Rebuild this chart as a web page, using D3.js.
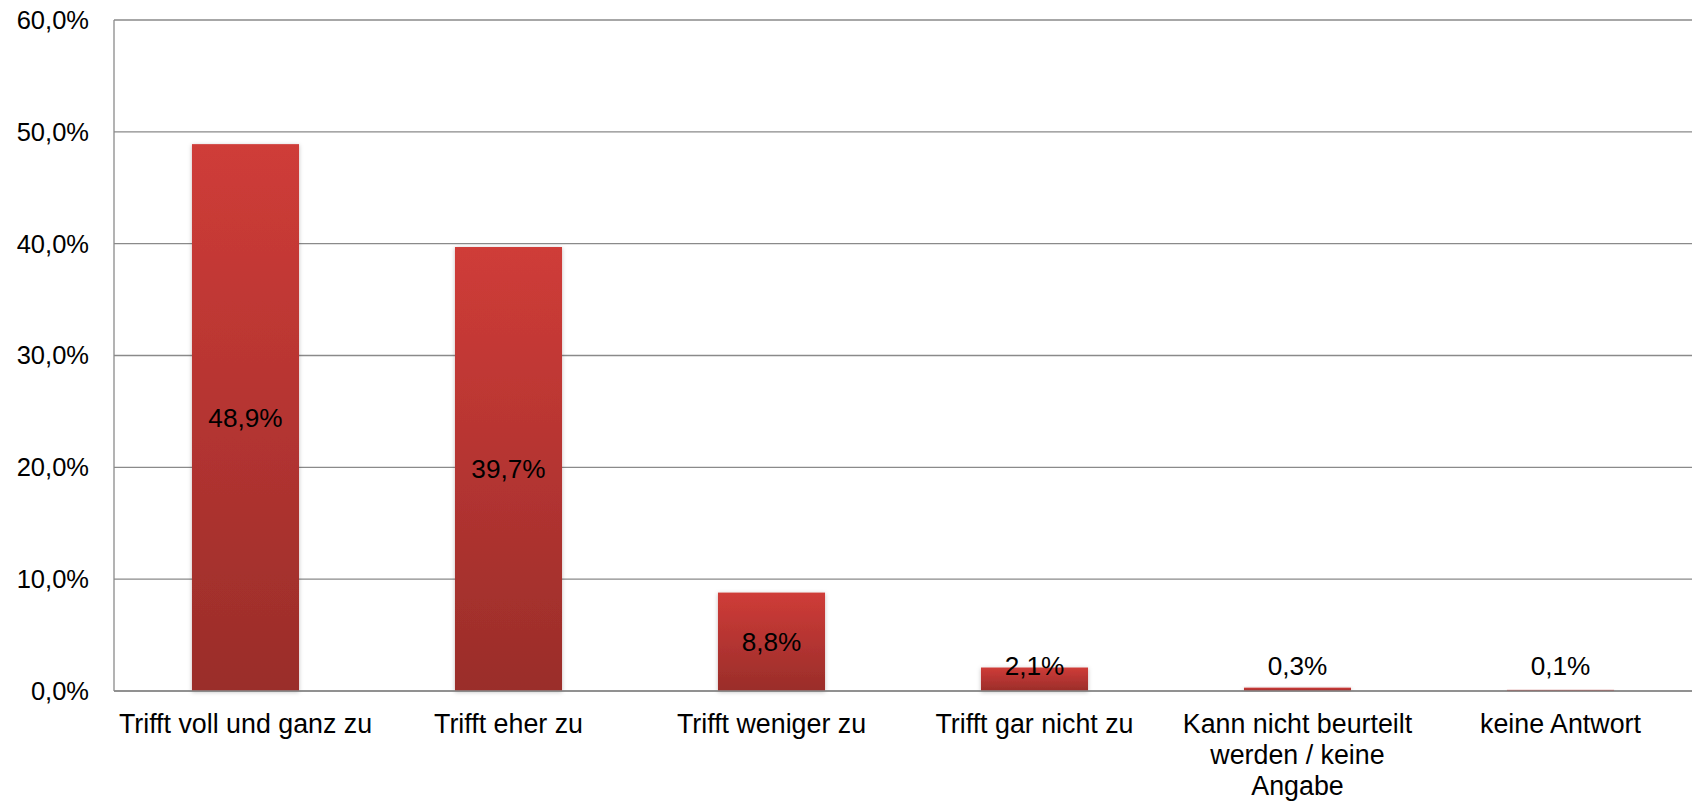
<!DOCTYPE html>
<html lang="de">
<head>
<meta charset="UTF-8">
<title>Chart</title>
<script src="https://d3js.org/d3.v7.min.js"></script>
<style>
    body { margin: 0; background: #fff; }
    text { font-family: "Liberation Sans", Arial, sans-serif; fill: #000; }
</style>
</head>
<body>
<div id="chart"></div>
<script>
    const categories = ["Trifft voll und ganz zu", "Trifft eher zu", "Trifft weniger zu", "Trifft gar nicht zu", "Kann nicht beurteilt werden / keine Angabe", "keine Antwort"]
    const values = [48.9, 39.7, 8.8, 2.1, 0.3, 0.1]
    const yTicks = [0, 10, 20, 30, 40, 50, 60]

    const width = 1692
    const height = 801
    const margin = {top: 20, right: 0, bottom: 110, left: 114}
    const fmt = v => d3.format(".1f")(v).replace(".", ",") + "%"

    const svg = d3.select("div#chart").append("svg")
        .attr("width", width)
        .attr("height", height)

    const defs = svg.append("defs")
    const grad = defs.append("linearGradient")
        .attr("id", "barGrad")
        .attr("x1", 0).attr("y1", 0).attr("x2", 0).attr("y2", 1)
    grad.append("stop").attr("offset", 0).attr("stop-color", "#cf3c38")
    grad.append("stop").attr("offset", 1).attr("stop-color", "#9a2d2a")
    const shadow = defs.append("filter").attr("id", "shadow")
        .attr("x", "-20%").attr("y", "-20%").attr("width", "140%").attr("height", "140%")
    shadow.append("feDropShadow")
        .attr("dx", 0).attr("dy", 1).attr("stdDeviation", 2)
        .attr("flood-color", "#000").attr("flood-opacity", 0.25)

    const x = d3.scaleBand().domain(categories)
        .range([margin.left, width - margin.right])
        .paddingInner(0.593).paddingOuter(0.2965)
    const y = d3.scaleLinear().domain([0, 60]).range([height - margin.bottom, margin.top])

    // gridlines
    svg.append("g").selectAll("line")
        .data(yTicks)
        .join("line")
        .attr("x1", margin.left)
        .attr("x2", width - margin.right)
        .attr("y1", d => y(d))
        .attr("y2", d => y(d))
        .attr("stroke", "#8a8a8a")
        .attr("stroke-width", 1.3)

    svg.append("line")
        .attr("x1", margin.left).attr("x2", margin.left)
        .attr("y1", y(60)).attr("y2", y(0))
        .attr("stroke", "#8a8a8a")
        .attr("stroke-width", 1.3)

    // y tick labels
    svg.append("g").selectAll("text")
        .data(yTicks)
        .join("text")
        .attr("x", 89)
        .attr("y", d => y(d))
        .attr("dy", "0.35em")
        .attr("text-anchor", "end")
        .style("font-size", "25.5px")
        .text(d => fmt(d))

    // bars
    svg.append("g").selectAll("rect")
        .data(values)
        .join("rect")
        .attr("x", (d, i) => x(categories[i]))
        .attr("width", x.bandwidth())
        .attr("y", d => y(d))
        .attr("height", d => y(0) - y(d))
        .attr("fill", "url(#barGrad)")
        .attr("filter", "url(#shadow)")

    // redraw baseline on top of bars
    svg.append("line")
        .attr("x1", margin.left).attr("x2", width - margin.right)
        .attr("y1", y(0)).attr("y2", y(0))
        .attr("stroke", "#8a8a8a")
        .attr("stroke-width", 1.3)

    // value labels
    svg.append("g").selectAll("text")
        .data(values)
        .join("text")
        .attr("x", (d, i) => x(categories[i]) + x.bandwidth() / 2)
        .attr("y", d => Math.min((y(d) + y(0)) / 2, y(0) - 25))
        .attr("dy", "0.35em")
        .attr("text-anchor", "middle")
        .style("font-size", "26.2px")
        .text(d => fmt(d))

    // category labels, wrapped
    function wrap(label, maxW, size) {
        const words = label.split(" ")
        const lines = []
        let line = ""
        const ctx = document.createElement("canvas").getContext("2d")
        ctx.font = size + "px 'Liberation Sans', Arial, sans-serif"
        words.forEach(w => {
            const test = line ? line + " " + w : w
            if (ctx.measureText(test).width > maxW && line) {
                lines.push(line)
                line = w
            } else {
                line = test
            }
        })
        lines.push(line)
        return lines
    }

    const catSize = 26.8
    const catG = svg.append("g")
    categories.forEach(c => {
        const t = catG.append("text")
            .attr("x", x(c) + x.bandwidth() / 2)
            .attr("y", 733)
            .attr("text-anchor", "middle")
            .style("font-size", catSize + "px")
        wrap(c, 265, catSize).forEach((l, j) => {
            t.append("tspan")
                .attr("x", x(c) + x.bandwidth() / 2)
                .attr("y", 733 + j * 31)
                .text(l)
        })
    })
</script>
</body>
</html>
